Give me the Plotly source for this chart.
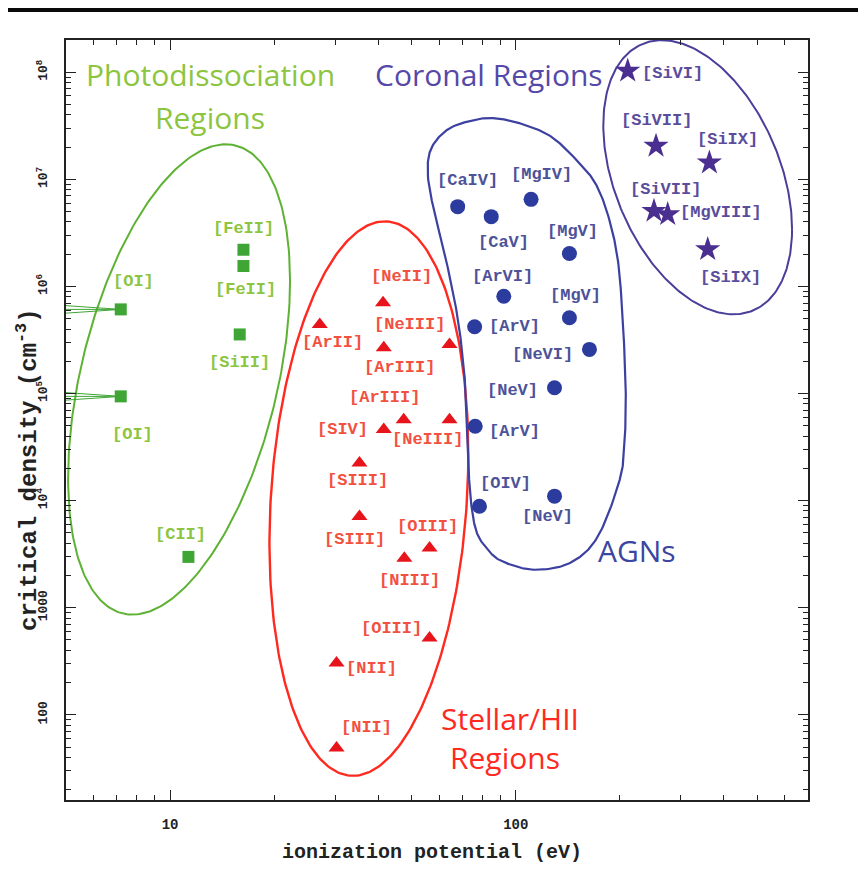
import numpy as np
import plotly.graph_objects as go

# ---------------- data ----------------
PDR_NAMES = ["[OI]", "[OI]", "[FeII]", "[FeII]", "[SiII]", "[CII]"]
PDR_IP = [7.2, 7.2, 16.3, 16.3, 15.9, 11.3]
PDR_NCRIT = [6.1e5, 9.4e4, 2.2e6, 1.55e6, 3.56e5, 2.98e3]

HII_NAMES = ["[ArII]", "[NeII]", "[ArIII]", "[NeIII]", "[SIV]", "[ArIII]", "[NeIII]",
             "[SIII]", "[SIII]", "[NIII]", "[OIII]", "[OIII]", "[NII]", "[NII]"]
HII_IP = [27.1, 41.3, 41.5, 64.3, 41.5, 47.4, 64.3, 35.3, 35.3, 47.6, 56.3, 56.3, 30.3, 30.3]
HII_NCRIT = [4.4e5, 7.05e5, 2.67e5, 2.87e5, 4.6e4, 5.7e4, 5.7e4, 2.25e4, 7.1e3, 2.9e3,
             3.6e3, 520, 304, 49]

AGN_NAMES = ["[CaIV]", "[CaV]", "[MgIV]", "[MgV]", "[ArVI]", "[MgV]", "[ArV]", "[NeVI]",
             "[NeV]", "[ArV]", "[OIV]", "[NeV]"]
AGN_IP = [67.9, 84.9, 110.7, 142.9, 92.3, 142.9, 76.0, 163.3, 129.4, 76.3, 78.5, 129.4]
AGN_NCRIT = [5.56e6, 4.48e6, 6.5e6, 2.03e6, 8.1e5, 5.1e5, 4.2e5, 2.58e5, 1.13e5, 4.94e4,
             8.86e3, 1.1e4]

COR_NAMES = ["[SiVI]", "[SiVII]", "[SiIX]", "[SiVII]", "[MgVIII]", "[SiIX]"]
COR_IP = [210.7, 254.4, 363, 251, 275, 359]
COR_NCRIT = [1.03e8, 2.05e7, 1.43e7, 5.06e6, 4.71e6, 2.22e6]

X_TICKS = [10, 100]
X_TICK_TEXT = ["10", "100"]
Y_TICKS = [100, 1000, 1e4, 1e5, 1e6, 1e7, 1e8]
Y_TICK_TEXT = ["100", "1000", "10<sup>4</sup>", "10<sup>5</sup>", "10<sup>6</sup>",
               "10<sup>7</sup>", "10<sup>8</sup>"]

# AGN region outline (eV, cm^-3)
AGN_OUT_X = [55.7, 56.8, 63.6, 75.1, 87.0, 104.8, 126.2, 149.1, 169.2, 184.5, 197.2, 203.8,
             207.9, 206.5, 199.8, 172.6, 144.2, 113.5, 91.7, 83.0, 76.6, 73.6, 72.7, 71.2,
             68.0, 62.8, 58.3]
AGN_OUT_Y = [1.07e7, 1.91e7, 2.93e7, 3.56e7, 3.72e7, 3.27e7, 2.52e7, 1.54e7, 9.37e6, 4.71e6,
             1.79e6, 4.92e5, 1.09e5, 3.72e4, 1.57e4, 4.61e3, 2.64e3, 2.26e3, 2.69e3, 3.48e3,
             5.36e3, 1.27e4, 3.72e4, 1.35e5, 4.92e5, 1.79e6, 4.71e6]

# ---------------- styles ----------------
X_RANGE = [5, 700]
Y_RANGE = [16, 2e8]

GREEN_LINE = "#5db233"
GREEN_MARK = "#3fa535"
GREEN_TEXT = "#8cc540"
RED_LINE = "#ff2a1f"
RED_MARK = "#e8141b"
RED_TEXT = "#f2513f"
BLUE_LINE = "#3c40a0"
BLUE_MARK = "#2b3b9e"
BLUE_TEXT = "#4d5299"
PURP_LINE = "#4a3e9b"
PURP_MARK = "#4b2f90"
PURP_TEXT = "#5a4d9c"

LABEL_FONT = "Liberation Mono"

PDR_OFF = [(13, 28), (12, -38), (0, 21), (2, -23), (0, -28), (-8, 22)]
HII_OFF = [(13, -18), (18, 26), (16, -20), (-40, 20), (-41, 0), (-19, 22), (-22, -20),
           (-2, -18), (-5, -23), (5, -22), (-2, 22), (-38, 10), (35, -5), (30, 20)]
AGN_OFF = [(10, 26), (12, -26), (10, 25), (3, 22), (-1, 20), (6, 22), (40, 0), (-47, -5),
           (-42, -3), (39, -5), (26, 23), (-7, -20)]
COR_OFF = [(45, -3), (0, 25), (18, 23), (11, 22), (53, 2), (23, -28)]

# figure sits 8 px in from the window corner (page body margin)
W, H = 858, 880
M_L, M_T, M_R, M_B = 58, 32, 58, 88
PW, PH = W - M_L - M_R, H - M_T - M_B


def ellipse(cx, cy, sx, sy, rho, n=300):
    t = np.linspace(0, 2 * np.pi, n)
    lx = cx + sx * np.cos(t)
    ly = cy + sy * (rho * np.cos(t) + np.sqrt(1 - rho ** 2) * np.sin(t))
    return 10 ** lx, 10 ** ly


def closed_spline(xs, ys, per=24):
    P = np.column_stack([np.log10(xs), np.log10(ys)])
    n = len(P)
    out = []
    for i in range(n):
        p0, p1, p2, p3 = P[i - 1], P[i], P[(i + 1) % n], P[(i + 2) % n]
        for t in np.linspace(0, 1, per, endpoint=False):
            t2, t3 = t * t, t * t * t
            pt = 0.5 * ((2 * p1) + (-p0 + p2) * t + (2 * p0 - 5 * p1 + 4 * p2 - p3) * t2
                        + (-p0 + 3 * p1 - 3 * p2 + p3) * t3)
            out.append(pt)
    out.append(out[0])
    out = np.array(out)
    return 10 ** out[:, 0], 10 ** out[:, 1]


fig = go.Figure()

# region outlines
gx, gy = ellipse(1.026, 5.131, 0.321, 2.196, 0.42)
fig.add_trace(go.Scatter(x=gx, y=gy, mode="lines", line=dict(color=GREEN_LINE, width=2),
                         hoverinfo="skip", showlegend=False))
rx, ry = ellipse(1.575, 4.019, 0.2876, 2.589, 0.16)
fig.add_trace(go.Scatter(x=rx, y=ry, mode="lines", line=dict(color=RED_LINE, width=2.4),
                         hoverinfo="skip", showlegend=False))
ax_, ay_ = closed_spline(AGN_OUT_X, AGN_OUT_Y)
fig.add_trace(go.Scatter(x=ax_, y=ay_, mode="lines", line=dict(color=BLUE_LINE, width=2.2),
                         hoverinfo="skip", showlegend=False))
cx_, cy_ = ellipse(2.526, 7.019, 0.273, 1.28, -0.38)
fig.add_trace(go.Scatter(x=cx_, y=cy_, mode="lines", line=dict(color=PURP_LINE, width=2),
                         hoverinfo="skip", showlegend=False))

# OI upper-limit fan lines to the axis
for i in range(2):
    for d in (-0.035, 0.0, 0.035):
        fig.add_trace(go.Scatter(x=[X_RANGE[0], PDR_IP[i]],
                                 y=[PDR_NCRIT[i] * 10 ** d, PDR_NCRIT[i]],
                                 mode="lines", line=dict(color=GREEN_MARK, width=1),
                                 hoverinfo="skip", showlegend=False))

# markers
fig.add_trace(go.Scatter(x=PDR_IP, y=PDR_NCRIT, mode="markers", text=PDR_NAMES,
                         marker=dict(symbol="square", size=12, color=GREEN_MARK),
                         showlegend=False))
fig.add_trace(go.Scatter(x=HII_IP, y=HII_NCRIT, mode="markers", text=HII_NAMES,
                         marker=dict(symbol="triangle-up", size=14, color=RED_MARK),
                         showlegend=False))
fig.add_trace(go.Scatter(x=AGN_IP, y=AGN_NCRIT, mode="markers", text=AGN_NAMES,
                         marker=dict(symbol="circle", size=15, color=BLUE_MARK),
                         showlegend=False))
fig.add_trace(go.Scatter(x=COR_IP, y=COR_NCRIT, mode="markers", text=COR_NAMES,
                         marker=dict(symbol="star", size=19, color=PURP_MARK),
                         showlegend=False))

annotations = []


def add_labels(names, xs, ys, offs, color):
    for n, x, y, (dx, dy) in zip(names, xs, ys, offs):
        annotations.append(dict(x=np.log10(x), y=np.log10(y), xref="x", yref="y",
                                text=n, showarrow=False, xshift=dx, yshift=dy,
                                xanchor="center", yanchor="middle",
                                font=dict(family=LABEL_FONT, size=17, color=color,
                                          weight="bold")))


add_labels(PDR_NAMES, PDR_IP, PDR_NCRIT, PDR_OFF, GREEN_TEXT)
add_labels(HII_NAMES, HII_IP, HII_NCRIT, HII_OFF, RED_TEXT)
add_labels(AGN_NAMES, AGN_IP, AGN_NCRIT, AGN_OFF, BLUE_TEXT)
add_labels(COR_NAMES, COR_IP, COR_NCRIT, COR_OFF, PURP_TEXT)


def px_to_paper(px, py):
    # px, py: position in the browser window
    return (px - 8 - M_L) / PW, (H - M_B - (py - 8)) / PH


TITLE_FONT = "Open Sans"
region_titles = [
    ("Photodissociation", 210, 75, GREEN_TEXT),
    ("Regions", 210, 117, GREEN_TEXT),
    ("Coronal Regions", 489, 75, "#5648a8"),
    ("AGNs", 637, 550, "#3b46a0"),
    ("Stellar/HII", 510, 718, RED_LINE),
    ("Regions", 505, 757, RED_LINE),
]
for txt, x, y, c in region_titles:
    px, py = px_to_paper(x, y)
    annotations.append(dict(x=px, y=py, xref="paper", yref="paper", text=txt,
                            showarrow=False, xanchor="center", yanchor="middle",
                            font=dict(family=TITLE_FONT, size=30, color=c)))

# axis titles
tx, ty = px_to_paper(432, 852)
annotations.append(dict(x=tx, y=ty, xref="paper", yref="paper",
                        text="ionization potential (eV)", showarrow=False,
                        xanchor="center", yanchor="middle",
                        font=dict(family=LABEL_FONT, size=20, color="#222", weight="bold")))
tx, ty = px_to_paper(27, 470)
annotations.append(dict(x=tx, y=ty, xref="paper", yref="paper", textangle=-90,
                        text="critical density (cm<sup>-3</sup>)", showarrow=False,
                        xanchor="center", yanchor="middle",
                        font=dict(family=LABEL_FONT, size=24, color="#222", weight="bold")))

x_minor = [6, 7, 8, 9, 20, 30, 40, 50, 60, 70, 80, 90, 200, 300, 400, 500, 600]
y_minor = [m * 10 ** k for k in range(1, 9) for m in range(2, 10) if m * 10 ** k <= 2e8]

fig.update_xaxes(type="log", range=[np.log10(X_RANGE[0]), np.log10(X_RANGE[1])],
                 showgrid=False, zeroline=False, showline=True, linecolor="#222",
                 linewidth=1.5, mirror="allticks", ticks="inside", ticklen=10,
                 tickwidth=1.2, tickcolor="#222", tickmode="array", tickvals=X_TICKS,
                 ticktext=X_TICK_TEXT, ticklabelstandoff=10,
                 tickfont=dict(family="Liberation Mono", size=14, color="#222",
                               weight="bold"),
                 minor=dict(tickmode="array", tickvals=x_minor, ticks="inside", ticklen=5,
                            tickcolor="#222", tickwidth=1, showgrid=False))
fig.update_yaxes(type="log", range=[np.log10(Y_RANGE[0]), np.log10(Y_RANGE[1])],
                 showgrid=False, zeroline=False, showline=True, linecolor="#222",
                 linewidth=1.5, mirror="allticks", ticks="inside", ticklen=10,
                 tickwidth=1.2, tickcolor="#222", tickmode="array", tickvals=Y_TICKS,
                 ticktext=Y_TICK_TEXT, tickangle=-90, ticklabelstandoff=12,
                 tickfont=dict(family="Liberation Mono", size=13, color="#222",
                               weight="bold"),
                 minor=dict(tickmode="array", tickvals=y_minor, ticks="inside", ticklen=5,
                            tickcolor="#222", tickwidth=1, showgrid=False))

fig.update_layout(
    width=W, height=H,
    margin=dict(l=M_L, r=M_R, t=M_T, b=M_B),
    paper_bgcolor="white", plot_bgcolor="white",
    annotations=annotations,
    shapes=[
        dict(type="rect", xref="paper", yref="paper", x0=-0.1, x1=1.1,
             y0=1 + (M_T - 4) / PH, y1=1 + (M_T + 2) / PH, fillcolor="#0a0a0a",
             line_width=0, layer="above"),
    ],
)

fig.write_html("out.html")
